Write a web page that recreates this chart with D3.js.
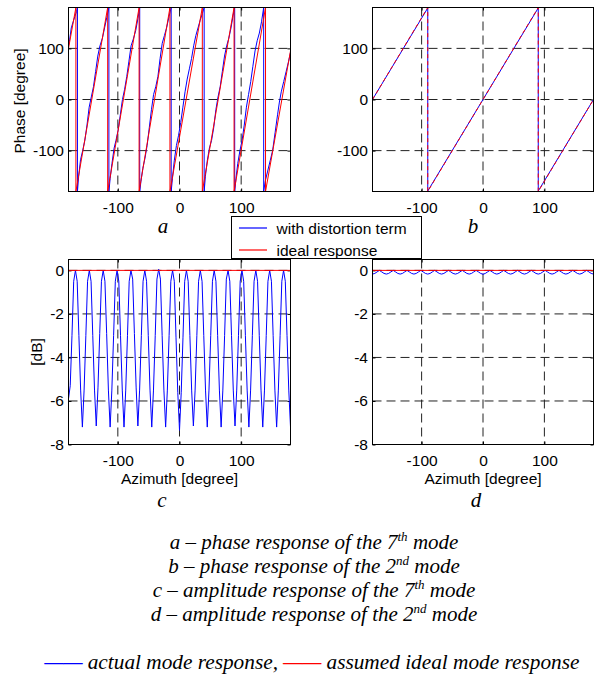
<!DOCTYPE html>
<html>
<head>
<meta charset="utf-8">
<script src="https://cdn.jsdelivr.net/npm/d3@7"></script>
<style>
body { margin: 0; background: #fff; }
svg text { font-family: "Liberation Sans", Arial, sans-serif; }
svg text.cap { font-family: "Liberation Serif", "Times New Roman", serif; font-style: italic; }
</style>
</head>
<body>
<div id="chart"></div>
<script>
// tick values
var azTicks = [-100, 0, 100];
var phaseTicks = [-100, 0, 100];
var dbTicks = [-8, -6, -4, -2, 0];

// a: phase of the 7th mode (jumps written twice)
var aIdealAz  = [-180, -168, -168, -116.5, -116.5, -65.5, -65.5, -15.5, -15.5, 37, 37, 88.5, 88.5, 139.5, 139.5, 180];
var aIdealDeg = [100, 180, -180, 180, -180, 180, -180, 180, -180, 180, -180, 180, -180, 180, -180, 95];

var aActualAz = [
    -180, -178, -175.5, -172.5, -169.5, -167, -165.5,
    -165.5, -163.5, -160.5, -157, -153.5, -150, -146.5, -143, -139.5, -136, -132.5, -129, -125, -121.5, -118, -114.5,
    -114.5, -112.5, -109.5, -106, -103, -99.5, -96, -92.5, -89, -85.5, -82, -78.5, -75, -71, -67.5, -64.5,
    -64.5, -62.5, -59.5, -56, -52.5, -49, -45.5, -42, -38.5, -35, -31.5, -28, -24.5, -21, -17, -13.5,
    -13.5, -11.5, -8.5, -5, -1.5, 2, 5.5, 9, 12.5, 16, 19.5, 23, 26.5, 30, 33.5, 37, 40,
    40, 42, 45, 48.5, 52, 55.5, 59, 62.5, 66, 69.5, 73, 76.5, 80, 83.5, 87, 89.5,
    89.5, 91.5, 94.5, 98, 101.5, 105, 108.5, 112, 115.5, 119, 122.5, 126, 129.5, 133, 136.5,
    136.5, 139, 143, 147, 151, 155, 159, 162, 165, 169, 173, 177, 180
];
var aActualDeg = [
    105, 118, 140, 152, 163, 172, 180,
    -180, -150, -118, -100, -80, -50, -15, 5, 25, 55, 85, 105, 120, 140, 160, 180,
    -180, -155, -125, -95, -80, -60, -30, 0, 20, 45, 75, 105, 118, 135, 158, 180,
    -180, -160, -135, -115, -90, -55, -20, 10, 25, 45, 80, 110, 125, 140, 162, 180,
    -180, -155, -120, -90, -70, -45, -15, 15, 40, 60, 80, 105, 125, 140, 155, 168, 180,
    -180, -150, -120, -95, -80, -55, -20, 5, 25, 55, 85, 105, 120, 140, 165, 180,
    -180, -155, -125, -100, -80, -50, -15, 10, 35, 65, 95, 115, 130, 152, 180,
    -180, -160, -140, -120, -100, -65, -30, -5, 15, 35, 55, 75, 92
];

// b: phase of the 2nd mode
var bIdealAz   = [-180, -90, -90, 90, 90, 180];
var bIdealDeg  = [0, 180, -180, 180, -180, 0];
var bActualAz  = [-180, -90, -90, 90, 90, 180];
var bActualDeg = [0, 179, -179, 179, -179, 0];

// c: amplitude of the 7th mode, sampled every 2.8125 degrees from -180
var cStep = 2.8125;
var cActualDb = [
    -5.9, -5.3, -3.0, -0.5, 0, -0.5, -3.0, -5.5,
    -7.2, -5.5, -3.0, -0.5, 0, -0.5, -3.0, -5.5,
    -7.15, -5.4, -2.9, -0.5, 0, -0.5, -2.9, -5.5,
    -7.2, -5.5, -3.0, -0.5, 0, -0.5, -3.0, -5.5,
    -7.2, -5.5, -3.0, -0.5, 0, -0.4, -2.9, -5.4,
    -7.15, -5.5, -3.0, -0.5, 0, -0.5, -3.0, -5.5,
    -7.2, -5.5, -3.0, -0.4, 0.05, -0.4, -3.0, -5.5,
    -7.2, -5.5, -3.0, -0.5, 0, -0.5, -3.1, -5.6,
    -7.35, -5.6, -3.1, -0.5, 0, -0.5, -3.0, -5.5,
    -7.15, -5.5, -3.0, -0.5, 0, -0.5, -3.0, -5.5,
    -7.2, -5.5, -3.0, -0.5, 0, -0.5, -3.0, -5.5,
    -7.2, -5.5, -3.0, -0.4, 0, -0.5, -3.0, -5.5,
    -7.15, -5.5, -3.0, -0.5, 0, -0.5, -3.0, -5.5,
    -7.2, -5.5, -3.0, -0.5, 0, -0.5, -3.0, -5.5,
    -7.2, -5.5, -3.0, -0.5, 0, -0.5, -3.0, -5.5,
    -7.2, -5.5, -3.0, -0.5, 0, -0.5, -3.0, -5.5,
    -7.2
];
var idealAz = [-180, 180];
var idealDb = [0, 0];

// d: amplitude of the 2nd mode, sampled every 3.75 degrees from -180
var dStep = 3.75;
var dActualDb = [
    -0.17, -0.14, -0.07, 0, -0.07, -0.14,
    -0.17, -0.14, -0.07, 0, -0.07, -0.14,
    -0.17, -0.14, -0.07, 0, -0.07, -0.14,
    -0.17, -0.14, -0.07, 0, -0.07, -0.14,
    -0.17, -0.14, -0.07, 0, -0.07, -0.14,
    -0.17, -0.14, -0.07, 0, -0.07, -0.14,
    -0.17, -0.14, -0.07, 0, -0.07, -0.14,
    -0.17, -0.14, -0.07, 0, -0.07, -0.14,
    -0.18, -0.14, -0.07, 0, -0.07, -0.14,
    -0.17, -0.14, -0.07, 0, -0.07, -0.14,
    -0.17, -0.14, -0.07, 0, -0.07, -0.14,
    -0.17, -0.14, -0.07, 0, -0.07, -0.14,
    -0.17, -0.14, -0.07, 0, -0.07, -0.14,
    -0.17, -0.14, -0.07, 0, -0.07, -0.14,
    -0.17, -0.14, -0.07, 0, -0.07, -0.14,
    -0.17, -0.14, -0.07, 0, -0.07, -0.14,
    -0.17
];

var legendLabels = ["with distortion term", "ideal response"];
var captionLines = [
    ["a – phase response of the 7", "th", " mode"],
    ["b – phase response of the 2", "nd", " mode"],
    ["c – amplitude response of the 7", "th", " mode"],
    ["d – amplitude response of the 2", "nd", " mode"]
];

var BLUE = "#0000ff", RED = "#ff0000";

var svg = d3.select("#chart").append("svg")
    .attr("width", 601)
    .attr("height", 677);

function sampled(step, values) {
    return values.map(function(v, i) { return [-180 + i * step, v]; });
}

function makePanel(box, yDomain, yTicks) {
    var x = d3.scaleLinear().domain([-180, 180]).range([box.left, box.right]);
    var y = d3.scaleLinear().domain(yDomain).range([box.bottom, box.top]);
    var g = svg.append("g");

    // dashed grid
    g.selectAll(".gx").data(azTicks).enter().append("line")
        .attr("x1", function(d) { return x(d); }).attr("x2", function(d) { return x(d); })
        .attr("y1", box.top).attr("y2", box.bottom)
        .attr("stroke", "#222").attr("stroke-dasharray", "9,5");
    g.selectAll(".gy").data(yTicks.filter(function(d) { return d !== yDomain[0]; })).enter().append("line")
        .attr("y1", function(d) { return y(d); }).attr("y2", function(d) { return y(d); })
        .attr("x1", box.left).attr("x2", box.right)
        .attr("stroke", "#222").attr("stroke-dasharray", "9,5");

    var fmt = function(d) { return String(d); };
    g.append("g").attr("transform", "translate(0," + box.bottom + ")")
        .call(d3.axisBottom(x).tickValues(azTicks).tickSize(-3).tickPadding(10).tickFormat(fmt));
    g.append("g").attr("transform", "translate(" + box.left + ",0)")
        .call(d3.axisLeft(y).tickValues(yTicks).tickSize(-3).tickPadding(4.5).tickFormat(fmt));
    g.append("g").attr("transform", "translate(0," + box.top + ")")
        .call(d3.axisTop(x).tickValues(azTicks).tickSize(-3).tickFormat(""));
    g.append("g").attr("transform", "translate(" + box.right + ",0)")
        .call(d3.axisRight(y).tickValues(yTicks).tickSize(-3).tickFormat(""));
    g.selectAll(".domain").remove();
    g.selectAll(".tick line").attr("stroke", "#000");
    g.selectAll(".tick text")
        .style("font-size", "15.5px")
        .attr("fill", "#000");

    var plot = svg.append("g");
    g.x = x; g.y = y; g.plot = plot; g.box = box;
    return g;
}

function frame(p) {
    svg.append("rect")
        .attr("x", p.box.left).attr("y", p.box.top)
        .attr("width", p.box.right - p.box.left)
        .attr("height", p.box.bottom - p.box.top)
        .attr("fill", "none").attr("stroke", "#000");
}

function drawLine(p, pts, color, dash) {
    var line = d3.line()
        .x(function(d) { return p.x(d[0]); })
        .y(function(d) { return p.y(d[1]); });
    var path = p.plot.append("path")
        .datum(pts)
        .attr("d", line)
        .attr("fill", "none")
        .attr("stroke", color)
        .attr("stroke-width", 1);
    if (dash) path.attr("stroke-dasharray", dash);
}

var pa = makePanel({ left: 68.5, right: 290.5, top: 7.5, bottom: 191.5 }, [-180, 180], phaseTicks);
var pb = makePanel({ left: 372.5, right: 593.5, top: 7.5, bottom: 191.5 }, [-180, 180], phaseTicks);
var pc = makePanel({ left: 68.5, right: 290.5, top: 259.5, bottom: 444.5 }, [-8, 0.5], dbTicks);
var pd = makePanel({ left: 372.5, right: 593.5, top: 259.5, bottom: 444.5 }, [-8, 0.5], dbTicks);

drawLine(pa, d3.zip(aActualAz, aActualDeg), BLUE);
drawLine(pa, d3.zip(aIdealAz, aIdealDeg), RED);
drawLine(pb, d3.zip(bActualAz, bActualDeg), BLUE);
drawLine(pb, d3.zip(bIdealAz, bIdealDeg), RED, "4,3");
drawLine(pc, sampled(cStep, cActualDb), BLUE);
drawLine(pc, d3.zip(idealAz, idealDb), RED);
drawLine(pd, sampled(dStep, dActualDb), BLUE);
drawLine(pd, d3.zip(idealAz, idealDb), RED);
[pa, pb, pc, pd].forEach(frame);

// axis titles
svg.append("text")
    .attr("transform", "translate(25,101) rotate(-90)")
    .attr("text-anchor", "middle")
    .style("font-size", "15.5px")
    .text("Phase [degree]");
svg.append("text")
    .attr("transform", "translate(42,352) rotate(-90)")
    .attr("text-anchor", "middle")
    .style("font-size", "15.5px")
    .text("[dB]");
[pc, pd].forEach(function(p) {
    svg.append("text")
        .attr("x", (p.box.left + p.box.right) / 2)
        .attr("y", 484)
        .attr("text-anchor", "middle")
        .style("font-size", "15.5px")
        .text("Azimuth [degree]");
});

// panel letters
var letters = [["a", 163, 233], ["b", 473, 233], ["c", 162, 507], ["d", 476, 507]];
letters.forEach(function(l) {
    svg.append("text").attr("class", "cap")
        .attr("x", l[1]).attr("y", l[2])
        .attr("text-anchor", "middle")
        .style("font-size", "21px")
        .text(l[0]);
});

// legend
var leg = svg.append("g");
leg.append("rect")
    .attr("x", 231.5).attr("y", 216.5)
    .attr("width", 190).attr("height", 42)
    .attr("fill", "#fff").attr("stroke", "#000");
[BLUE, RED].forEach(function(col, i) {
    var yy = 228 + i * 22;
    leg.append("line")
        .attr("x1", 239).attr("x2", 267)
        .attr("y1", yy).attr("y2", yy)
        .attr("stroke", col)
        .attr("stroke-width", 1.2);
    leg.append("text")
        .attr("x", 276.5).attr("y", yy + 5.5)
        .style("font-size", "15.5px")
        .text(legendLabels[i]);
});

// caption
captionLines.forEach(function(parts, i) {
    var t = svg.append("text").attr("class", "cap")
        .attr("x", 314).attr("y", 548.5 + i * 24.2)
        .attr("text-anchor", "middle")
        .style("font-size", "21px");
    t.append("tspan").text(parts[0]);
    t.append("tspan").attr("dy", -8).style("font-size", "13px").text(parts[1]);
    t.append("tspan").attr("dy", 8).text(parts[2]);
});

var note = svg.append("text").attr("class", "cap")
    .attr("x", 312).attr("y", 669)
    .attr("text-anchor", "middle")
    .style("font-size", "21.3px");
note.append("tspan").attr("fill", BLUE).attr("stroke", BLUE).attr("stroke-width", 0.25).text("——");
note.append("tspan").text(" actual mode response, ");
note.append("tspan").attr("fill", RED).attr("stroke", RED).attr("stroke-width", 0.25).text("——");
note.append("tspan").text(" assumed ideal mode response");
</script>
</body>
</html>
